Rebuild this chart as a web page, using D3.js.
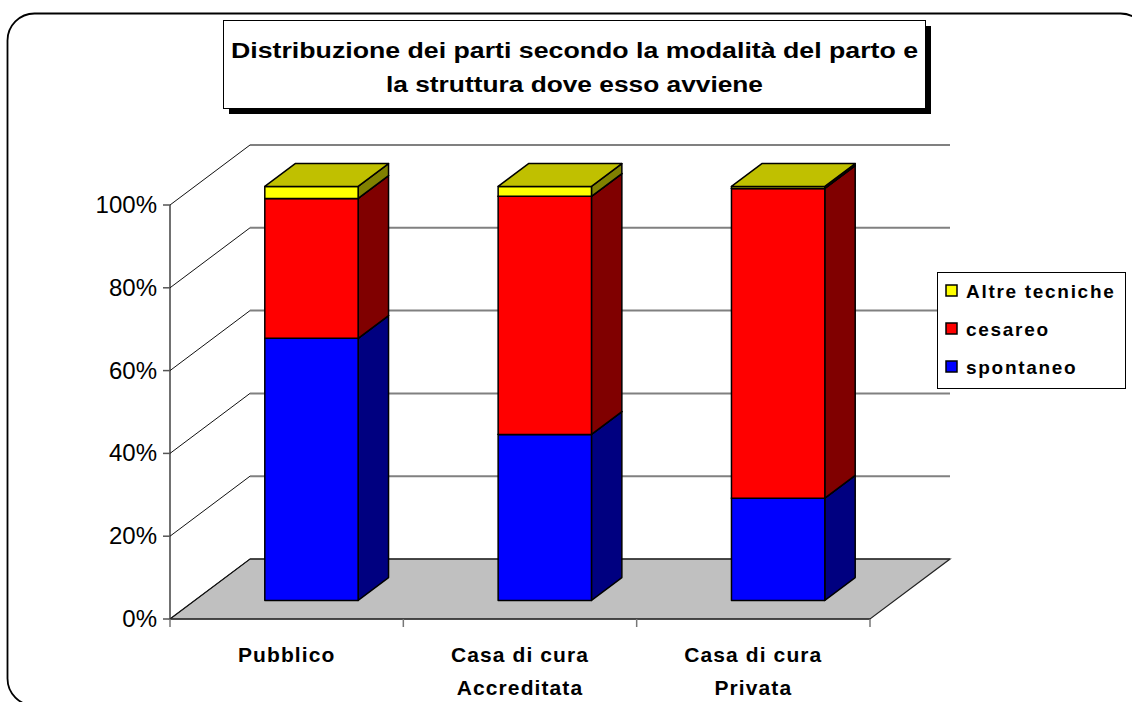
<!DOCTYPE html>
<html>
<head>
<meta charset="utf-8">
<script src="https://cdn.jsdelivr.net/npm/d3@7"></script>
<style>
  body { margin: 0; background: #fff; }
  svg { display: block; font-family: "Liberation Sans", Arial, sans-serif; }
</style>
</head>
<body>
<svg id="chart" width="1132" height="702"></svg>
<script>
// data (percent of births per structure)
const categories = ["Pubblico", "Casa di cura Accreditata", "Casa di cura Privata"];
const catLines = [["Pubblico"], ["Casa di cura", "Accreditata"], ["Casa di cura", "Privata"]];
const seriesNames = ["spontaneo", "cesareo", "Altre tecniche"];
const spontaneo = [63.3, 40.1, 24.7];
const cesareo = [33.8, 57.5, 74.8];
const altre = [2.9, 2.4, 0.5];
const yTicks = [0, 0.2, 0.4, 0.6, 0.8, 1];

const frontCol = {"spontaneo": "#0000ff", "cesareo": "#ff0000", "Altre tecniche": "#ffff00"};
const sideCol = {"spontaneo": "#000080", "cesareo": "#800000", "Altre tecniche": "#808000"};
const topCol = {"spontaneo": "#0000c0", "cesareo": "#c00000", "Altre tecniche": "#c0c000"};

const svg = d3.select("#chart");

// outer frame
svg.append("rect")
  .attr("x", 7.5).attr("y", 13.5)
  .attr("width", 1140).attr("height", 692)
  .attr("rx", 27)
  .attr("fill", "#fff").attr("stroke", "#000").attr("stroke-width", 1.8);

// 3d depth offset
const DX = 80, DY = -60;
const p = (x, y, d) => [x + DX * d, y + DY * d];

const x = d3.scaleBand().domain(categories).range([170, 870]).paddingInner(0.6).paddingOuter(0.3);
const y = d3.scaleLinear().domain([0, 1]).range([619, 205]);

// rows in percent form
const rows = categories.map((c, i) => {
  const tot = spontaneo[i] + cesareo[i] + altre[i];
  return {cat: c, "spontaneo": spontaneo[i] / tot, "cesareo": cesareo[i] / tot, "Altre tecniche": altre[i] / tot};
});
const stacked = d3.stack().keys(seriesNames)(rows);

const g = svg.append("g");
const x0 = x.range()[0], x1 = x.range()[1];

// floor
g.append("path")
  .attr("d", d3.line()([p(x0, y(0), 0), p(x1, y(0), 0), p(x1, y(0), 1), p(x0, y(0), 1)]) + "Z")
  .attr("fill", "#c0c0c0").attr("stroke", "#222").attr("stroke-width", 1.2);

// gridlines: left wall diagonal + back wall horizontal
yTicks.forEach(t => {
  const a = p(x0, y(t), 0), b = p(x0, y(t), 1), c = p(x1, y(t), 1);
  g.append("line")
    .attr("x1", a[0]).attr("y1", a[1]).attr("x2", b[0]).attr("y2", b[1])
    .attr("stroke", "#111").attr("stroke-width", 1);
  g.append("line")
    .attr("x1", b[0]).attr("y1", b[1]).attr("x2", c[0]).attr("y2", c[1])
    .attr("stroke", t > 0 ? "#808080" : "#333").attr("stroke-width", t > 0 ? 2 : 1.5);
});

// y axis
g.append("line")
  .attr("x1", x0).attr("x2", x0).attr("y1", y(1)).attr("y2", y(0))
  .attr("stroke", "#111").attr("stroke-width", 1.2);
g.selectAll("line.ytick").data(yTicks).join("line")
  .attr("class", "ytick")
  .attr("x1", x0 - 7).attr("x2", x0).attr("y1", d => y(d)).attr("y2", d => y(d))
  .attr("stroke", "#555").attr("stroke-width", 1.5);
g.selectAll("text.ylab").data(yTicks).join("text")
  .attr("class", "ylab")
  .attr("x", x0 - 13).attr("y", d => y(d) + 8)
  .attr("text-anchor", "end")
  .attr("font-size", 24)
  .text(d3.format(".0%"));

// x axis
g.append("line")
  .attr("x1", x0).attr("x2", x1).attr("y1", y(0)).attr("y2", y(0))
  .attr("stroke", "#333").attr("stroke-width", 1.5);
const bounds = d3.range(categories.length + 1).map(i => x0 + (x1 - x0) * i / categories.length);
g.selectAll("line.xtick").data(bounds).join("line")
  .attr("class", "xtick")
  .attr("x1", d => d).attr("x2", d => d).attr("y1", y(0)).attr("y2", y(0) + 8)
  .attr("stroke", "#777").attr("stroke-width", 1.5);

// bars
const dFront = 0.31, dBack = 0.69;
categories.forEach((c, i) => {
  const bx0 = x(c), bx1 = x(c) + x.bandwidth();
  stacked.forEach(s => {
    const v0 = s[i][0], v1 = s[i][1];
    if (v1 - v0 <= 0) return;
    const key = s.key;
    const fbl = p(bx0, y(v0), dFront), fbr = p(bx1, y(v0), dFront);
    const ftl = p(bx0, y(v1), dFront), ftr = p(bx1, y(v1), dFront);
    const bbr = p(bx1, y(v0), dBack), btr = p(bx1, y(v1), dBack), btl = p(bx0, y(v1), dBack);
    const poly = pts => d3.line()(pts) + "Z";
    g.append("path").attr("d", poly([fbr, bbr, btr, ftr]))
      .attr("fill", sideCol[key]).attr("stroke", "#000").attr("stroke-width", 1.5).attr("stroke-linejoin", "round");
    g.append("path").attr("d", poly([fbl, fbr, ftr, ftl]))
      .attr("fill", frontCol[key]).attr("stroke", "#000").attr("stroke-width", 1.5).attr("stroke-linejoin", "round");
    g.append("path").attr("d", poly([ftl, ftr, btr, btl]))
      .attr("fill", topCol[key]).attr("stroke", "#000").attr("stroke-width", 1.5).attr("stroke-linejoin", "round");
  });
});

// category labels
categories.forEach((c, i) => {
  const cx = x(c) + x.bandwidth() / 2;
  catLines[i].forEach((ln, j) => {
    g.append("text")
      .attr("x", cx).attr("y", 662 + j * 33)
      .attr("text-anchor", "middle")
      .attr("font-size", 21).attr("font-weight", "bold")
      .attr("letter-spacing", 1.1)
      .text(ln);
  });
});

// title box with shadow
svg.append("rect").attr("x", 229).attr("y", 26).attr("width", 702).attr("height", 88).attr("fill", "#000");
svg.append("rect").attr("x", 223.5).attr("y", 20.5).attr("width", 702).attr("height", 88)
  .attr("fill", "#fff").attr("stroke", "#000").attr("stroke-width", 1);
const titleLines = ["Distribuzione dei parti secondo la modalità del parto e", "la struttura dove esso avviene"];
const titleLen = [687, 377];
titleLines.forEach((t, j) => {
  svg.append("text")
    .attr("x", 574.5).attr("y", 58 + j * 34)
    .attr("text-anchor", "middle")
    .attr("font-size", 22).attr("font-weight", "bold")
    .attr("textLength", titleLen[j]).attr("lengthAdjust", "spacingAndGlyphs")
    .text(t);
});

// legend
const lg = svg.append("g");
lg.append("rect").attr("x", 937.5).attr("y", 272.5).attr("width", 188).attr("height", 116)
  .attr("fill", "#fff").attr("stroke", "#000").attr("stroke-width", 1);
const legendOrder = seriesNames.slice().reverse();
legendOrder.forEach((k, j) => {
  const ly = 291 + j * 38;
  lg.append("rect").attr("x", 946).attr("y", ly - 6).attr("width", 11).attr("height", 11)
    .attr("fill", frontCol[k]).attr("stroke", "#000").attr("stroke-width", 1.5);
  lg.append("text").attr("x", 966).attr("y", ly + 7)
    .attr("font-size", 19).attr("font-weight", "bold").attr("letter-spacing", 1.7)
    .text(k);
});
</script>
</body>
</html>
